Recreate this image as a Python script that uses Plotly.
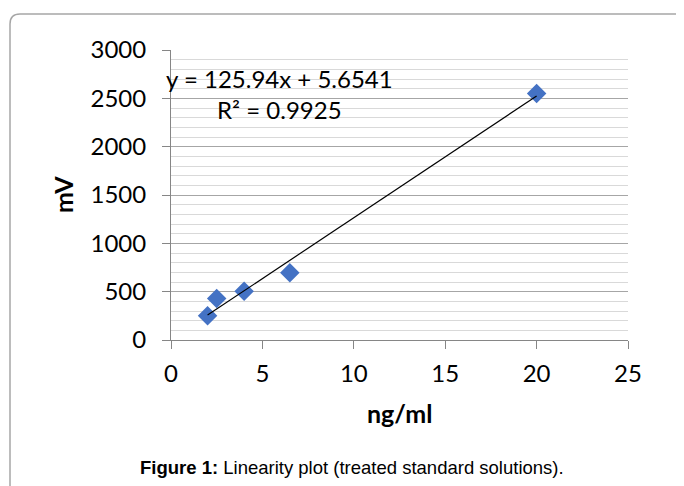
import plotly.graph_objects as go

# Data
conc = [2, 2.5, 4, 6.5, 20]          # ng/ml
signal = [250, 430, 505, 695, 2550]  # mV

# Trendline reported on the chart
slope = 125.94
intercept = 5.6541
r2 = 0.9925

x_ticks = [0, 5, 10, 15, 20, 25]
y_ticks = [0, 500, 1000, 1500, 2000, 2500, 3000]

x_fit = [min(conc), max(conc)]
y_fit = [slope * v + intercept for v in x_fit]

FONT = "Lato"
AXIS_COL = "#868686"
BODY = 8  # default page margin of the html body

fig = go.Figure()
fig.add_trace(go.Scatter(
    x=conc, y=signal, mode="markers",
    marker=dict(symbol="diamond", size=15, color="#4472C4", line=dict(width=0)),
    showlegend=False, hoverinfo="x+y"))
fig.add_trace(go.Scatter(
    x=x_fit, y=y_fit, mode="lines",
    line=dict(color="black", width=1.2),
    showlegend=False, hoverinfo="skip"))

fig.update_layout(
    width=684, height=486,
    margin=dict(l=171 - BODY, r=56 + BODY, t=50 - BODY, b=146 + BODY),
    paper_bgcolor="white", plot_bgcolor="white",
    font=dict(family=FONT, size=24, color="black"),
    xaxis=dict(range=[0, 25], tickvals=x_ticks, showgrid=False, zeroline=False,
               showline=True, linecolor=AXIS_COL, linewidth=1,
               ticks="outside", ticklen=8, tickcolor=AXIS_COL,
               tickfont=dict(family=FONT, size=24, color="black"),
               ticklabelstandoff=4),
    yaxis=dict(range=[0, 3000], tickvals=y_ticks, showgrid=True,
               gridcolor="#a6a6a6", gridwidth=1, zeroline=False,
               showline=True, linecolor=AXIS_COL, linewidth=1,
               ticks="outside", ticklen=8, tickcolor=AXIS_COL,
               tickfont=dict(family=FONT, size=24, color="black"),
               ticklabelstandoff=11,
               minor=dict(dtick=100, showgrid=True, gridcolor="#d9d9d9", gridwidth=1)),
)

eq_text = f"y = {slope}x + {intercept}<br>R² = {r2}"
fig.add_annotation(x=5.96, y=2540, xref="x", yref="y", text=eq_text,
                   showarrow=False, align="center", xanchor="center", yanchor="middle",
                   font=dict(family=FONT, size=24, color="black"))

pw, ph = 457.0, 290.0
def px(p):
    return (p - 171) / pw
def py(p):
    return (340 - p) / ph

fig.add_annotation(x=px(63), y=py(195), xref="paper", yref="paper", text="<b>mV</b>",
                   textangle=-90, showarrow=False, xanchor="center", yanchor="middle",
                   font=dict(family=FONT, size=25, color="black"))
fig.add_annotation(x=px(399), y=py(413), xref="paper", yref="paper", text="<b>ng/ml</b>",
                   showarrow=False, xanchor="center", yanchor="middle",
                   font=dict(family=FONT, size=25, color="black"))

fig.add_annotation(x=px(352), y=py(467), xref="paper", yref="paper",
                   text="<b>Figure 1:</b> Linearity plot (treated standard solutions).",
                   showarrow=False, xanchor="center", yanchor="middle",
                   font=dict(family="Liberation Sans", size=18.5, color="black"))

# Outer frame (top and left edges with rounded corner)
r = 10
path = (f"M {px(10)} {py(520)} L {px(10)} {py(14 + r)} "
        f"Q {px(10)} {py(14)} {px(10 + r)} {py(14)} L {px(720)} {py(14)}")
fig.add_shape(type="path", path=path, xref="paper", yref="paper",
              line=dict(color="#a6a6a6", width=1.5), layer="above")

fig.write_html("out.html")
